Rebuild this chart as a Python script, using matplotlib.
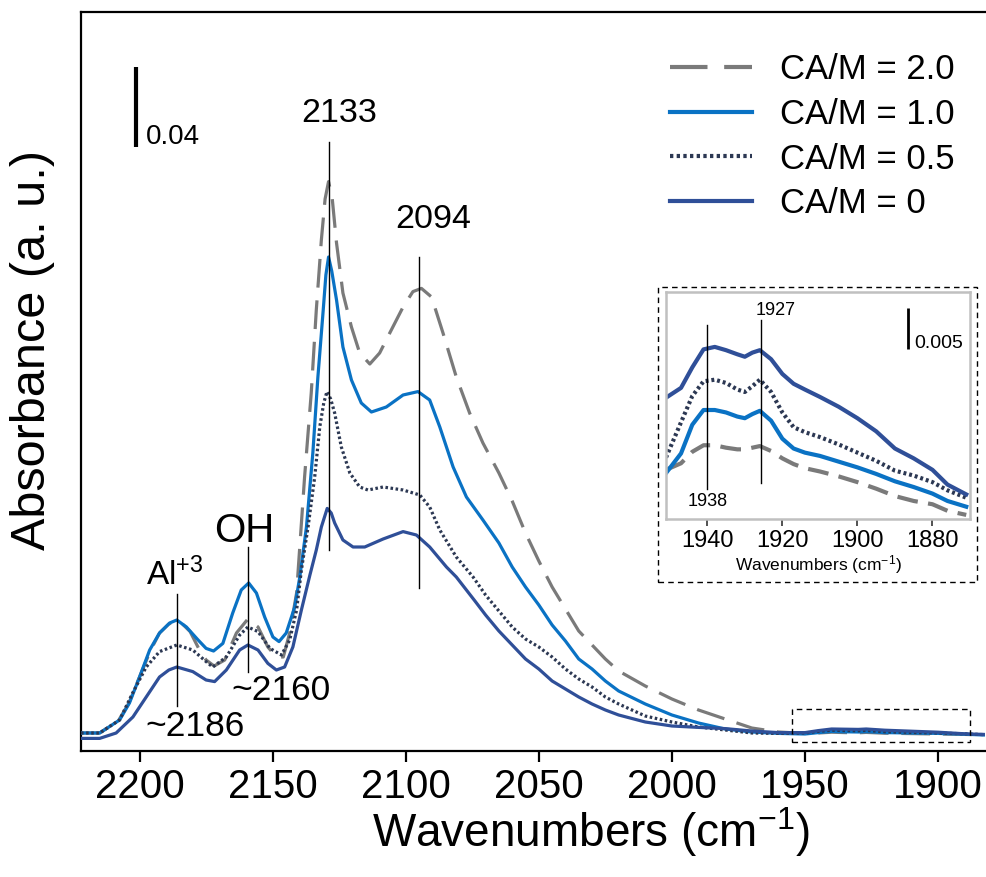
import matplotlib
matplotlib.use("Agg")
import matplotlib.pyplot as plt
from matplotlib.patches import Rectangle

plt.rcParams['font.family'] = ['Liberation Sans', 'DejaVu Sans']
plt.rcParams['mathtext.fontset'] = 'custom'
plt.rcParams['mathtext.rm'] = 'Liberation Sans'
plt.rcParams['mathtext.it'] = 'Liberation Sans:italic'
plt.rcParams['mathtext.bf'] = 'Liberation Sans:bold'

# ---------------- data (main spectrum) ----------------
tail_wn = [1945, 1940, 1935, 1930, 1927, 1920, 1910, 1900, 1890, 1883]

wn_ca20 = [2222, 2215, 2208, 2204, 2200, 2196, 2192.5, 2189, 2186, 2183.5, 2181, 2177.5,
           2175, 2172, 2168, 2163.6, 2159.3, 2155.5, 2151.8, 2148.6, 2146, 2143.6, 2141,
           2138, 2135.5, 2133.6, 2131.7, 2130.3, 2129, 2127.6, 2126, 2123.6, 2120.4,
           2117.3, 2113.5, 2109.8, 2106, 2101, 2097.3, 2094.1, 2090.3, 2086, 2081, 2076,
           2071, 2065, 2060, 2055, 2050, 2045, 2040, 2035, 2030, 2025, 2020, 2010, 2000,
           1990, 1980, 1970, 1960, 1950] + tail_wn
abs_ca20 = [0.001, 0.001, 0.007, 0.016, 0.029, 0.042, 0.051, 0.0555, 0.057, 0.055, 0.0517,
            0.0425, 0.0375, 0.0345, 0.0375, 0.051, 0.058, 0.054, 0.044, 0.039, 0.039, 0.051,
            0.071, 0.129, 0.171, 0.2125, 0.2475, 0.268, 0.2767, 0.268, 0.246, 0.221, 0.204,
            0.191, 0.1855, 0.191, 0.201, 0.214, 0.2217, 0.2233, 0.219, 0.201, 0.179, 0.161,
            0.146, 0.131, 0.117, 0.101, 0.087, 0.074, 0.063, 0.052, 0.045, 0.038, 0.032,
            0.0245, 0.018, 0.0125, 0.008, 0.0035, 0.0015, 0.0008,
            0.001, 0.0014, 0.0012, 0.0011, 0.0013, 0.0009, 0.0007, 0.0005, 0.0003, 0.0]

wn_ca10 = [2222, 2215, 2207.5, 2203.8, 2200, 2196.2, 2192.5, 2188.7, 2186, 2182.4, 2178,
           2175, 2172.2, 2168.7, 2165, 2161.8, 2159, 2156.1, 2153, 2149.9, 2147.6, 2144.9,
           2141.7, 2139.8, 2137.3, 2134.9, 2133, 2131, 2130, 2129, 2127.8, 2126, 2123.6,
           2120.4, 2116.7, 2112.9, 2107.3, 2101, 2095.4, 2091, 2087.2, 2082.2, 2077.2,
           2071, 2065, 2060, 2055, 2050, 2045, 2040, 2035, 2030, 2025, 2020, 2010, 2000,
           1990, 1980, 1970, 1960, 1950] + tail_wn
abs_ca10 = [0.001, 0.001, 0.0075, 0.016, 0.029, 0.0425, 0.051, 0.056, 0.0575, 0.054, 0.0475,
            0.0433, 0.042, 0.0458, 0.061, 0.0725, 0.076, 0.071, 0.059, 0.049, 0.0467, 0.051,
            0.064, 0.079, 0.104, 0.141, 0.179, 0.2125, 0.230, 0.239, 0.232, 0.2175, 0.194,
            0.1775, 0.166, 0.1615, 0.164, 0.170, 0.1717, 0.1675, 0.154, 0.134, 0.119,
            0.1075, 0.096, 0.084, 0.074, 0.065, 0.055, 0.047, 0.038, 0.033, 0.027, 0.022,
            0.0155, 0.010, 0.006, 0.003, 0.0015, 0.0008, 0.0005,
            0.0012, 0.0018, 0.0016, 0.0015, 0.0017, 0.0012, 0.001, 0.0008, 0.0004, 0.0]

wn_ca05 = [2222, 2215, 2207.5, 2202.6, 2197.5, 2192.5, 2186, 2180, 2175, 2172.5, 2167.4,
           2162.4, 2159.3, 2155.5, 2151, 2146.7, 2143.6, 2141, 2139.2, 2136.7, 2134.2,
           2132.3, 2130.8, 2129.6, 2128.2, 2126.7, 2124.2, 2121, 2117.3, 2114.2, 2108.5,
           2101, 2094.7, 2091, 2087.2, 2081, 2074.7, 2070, 2065, 2060, 2055, 2050, 2045,
           2040, 2035, 2030, 2025, 2020, 2010, 2000, 1990, 1980, 1970, 1960, 1950] + tail_wn
abs_ca05 = [0.001, 0.001, 0.0075, 0.021, 0.034, 0.0417, 0.045, 0.0425, 0.0367, 0.034, 0.039,
            0.050, 0.054, 0.0517, 0.0433, 0.040, 0.0475, 0.0625, 0.0825, 0.104, 0.129,
            0.154, 0.166, 0.1717, 0.168, 0.161, 0.144, 0.131, 0.124, 0.1225, 0.124,
            0.1225, 0.120, 0.114, 0.1025, 0.089, 0.079, 0.070, 0.062, 0.054, 0.048, 0.044,
            0.039, 0.033, 0.028, 0.024, 0.019, 0.0155, 0.0095, 0.0065, 0.004, 0.0025,
            0.001, 0.0008, 0.001,
            0.0018, 0.0024, 0.0022, 0.0021, 0.0023, 0.0016, 0.0013, 0.001, 0.0006, 0.0002]

wn_ca00 = [2222, 2215, 2208.8, 2202.5, 2197.5, 2192.5, 2189, 2186, 2180, 2175, 2171.8,
           2167.4, 2162.4, 2159.3, 2155.5, 2151.8, 2148.6, 2145.5, 2142.4, 2139.2, 2136,
           2133.6, 2131.7, 2129.5, 2128, 2126.7, 2123.6, 2119.8, 2115.4, 2108.5, 2101,
           2096, 2091, 2084.7, 2081, 2074, 2070, 2065, 2060, 2055, 2050, 2045, 2040, 2035,
           2030, 2025, 2020, 2010, 2000, 1990, 1980, 1970, 1960, 1950] + tail_wn
abs_ca00 = [-0.0017, -0.0017, 0.001, 0.009, 0.019, 0.029, 0.0325, 0.034, 0.0317, 0.0275,
            0.0267, 0.0325, 0.0425, 0.045, 0.0425, 0.0358, 0.0325, 0.034, 0.044, 0.0625,
            0.080, 0.0925, 0.104, 0.1133, 0.111, 0.106, 0.0975, 0.094, 0.094, 0.098,
            0.1017, 0.100, 0.094, 0.084, 0.079, 0.067, 0.060, 0.052, 0.045, 0.038, 0.033,
            0.027, 0.023, 0.019, 0.0155, 0.0125, 0.010, 0.0065, 0.0045, 0.0038, 0.0032,
            0.002, 0.0012, 0.0012,
            0.0022, 0.003, 0.0029, 0.0028, 0.003, 0.0024, 0.0019, 0.0014, 0.0006, 0.0003]

# ---------------- data (inset) ----------------
wn_in = [1951, 1947, 1944, 1941, 1938, 1935, 1932, 1930, 1928, 1926, 1923, 1920, 1917,
         1914, 1910, 1905, 1900, 1895, 1890, 1885, 1880, 1876, 1871]
in_ca00 = [0.0148, 0.0160, 0.0185, 0.0207, 0.0210, 0.0206, 0.0201, 0.0198, 0.0203, 0.0206,
           0.0195, 0.0177, 0.0165, 0.0158, 0.0149, 0.0137, 0.0123, 0.0107, 0.0086, 0.0074,
           0.0060, 0.0042, 0.0030]
in_ca05 = [0.0075, 0.0118, 0.0150, 0.0168, 0.0170, 0.0166, 0.0158, 0.0155, 0.0162, 0.0170,
           0.0155, 0.0130, 0.0112, 0.0106, 0.0100, 0.0091, 0.0081, 0.0071, 0.0059, 0.0053,
           0.0045, 0.0035, 0.0026]
in_ca10 = [0.0056, 0.0080, 0.0115, 0.0133, 0.0133, 0.0130, 0.0125, 0.0123, 0.0128, 0.0132,
           0.0120, 0.0098, 0.0086, 0.0081, 0.0077, 0.0070, 0.0063, 0.0055, 0.0046, 0.0039,
           0.0031, 0.0022, 0.0015]
in_ca20 = [0.0060, 0.0068, 0.0082, 0.0090, 0.0090, 0.0087, 0.0085, 0.0085, 0.0087, 0.0089,
           0.0083, 0.0074, 0.0067, 0.0062, 0.0058, 0.0052, 0.0045, 0.0037, 0.0028, 0.0022,
           0.0018, 0.0010, 0.0005]

labels = ['CA/M = 2.0', 'CA/M = 1.0', 'CA/M = 0.5', 'CA/M = 0']
main_ticks = [2200, 2150, 2100, 2050, 2000, 1950, 1900]
inset_ticks = [1940, 1920, 1900, 1880]

c_gray = '#7a7a7a'
c_blue = '#0a72c4'
c_dot = '#2c3853'
c_dark = '#2f4f98'

W, H = 986, 877
fig = plt.figure(figsize=(W / 100, H / 100), dpi=100)


def fx(px):
    return px / W


def fy(py):
    return 1 - py / H


ax = fig.add_axes([fx(81), fy(751), (986 - 81) / W, (751 - 12) / H])
lw = 2.3
ax.plot(wn_ca20, abs_ca20, color=c_gray, lw=lw, dashes=(9, 4), label=labels[0], zorder=3)
ax.plot(wn_ca10, abs_ca10, color=c_blue, lw=lw, label=labels[1], zorder=3)
ax.plot(wn_ca05, abs_ca05, color=c_dot, lw=lw, dashes=(0.8, 0.8), label=labels[2], zorder=3)
ax.plot(wn_ca00, abs_ca00, color=c_dark, lw=lw, label=labels[3], zorder=3)

ax.set_xlim(2222, 1882)
ax.set_ylim(-0.008, 0.3615)
ax.set_xticks(main_ticks)
ax.set_xticklabels([str(t) for t in main_ticks])
ax.set_yticks([])
ax.tick_params(axis='x', direction='out', length=8, width=1.6, labelsize=29, pad=4)
for s in ['left', 'bottom', 'top']:
    ax.spines[s].set_linewidth(1.6)
ax.spines['right'].set_visible(False)

# annotation lines
alw = 1.0
ax.plot([2129, 2129], [0.0925, 0.2965], color='black', lw=alw, zorder=4)
ax.plot([2095, 2095], [0.0735, 0.239], color='black', lw=alw, zorder=4)
ax.plot([2186, 2186], [0.0145, 0.0705], color='black', lw=alw, zorder=4)
ax.plot([2159.4, 2159.4], [0.0315, 0.094], color='black', lw=alw, zorder=4)

ax.text(2125, 0.311, '2133', fontsize=24.5, ha='center', va='center')
ax.text(2089.5, 0.258, '2094', fontsize=24.5, ha='center', va='center')
ax.text(2197.5, 0.075, 'Al$^{+3}$', fontsize=24, ha='left', va='baseline')
ax.text(2160.6, 0.0965, 'OH', fontsize=29, ha='center', va='baseline')
ax.text(2147, 0.022, '~2160', fontsize=25.5, ha='center', va='center')
ax.text(2179, 0.004, '~2186', fontsize=25.5, ha='center', va='center')

# scale bar
ax.plot([2201.5, 2201.5], [0.294, 0.334], color='black', lw=3, solid_capstyle='butt')
ax.text(2197.7, 0.2955, '0.04', fontsize=20, ha='left', va='baseline')

# zoom region box
ax.add_patch(Rectangle((1954.9, -0.0035), 1888 - 1954.9, 0.0165, fill=False,
                       ls=(0, (4, 3)), lw=1.0, ec='black', zorder=5))

# legend
leg = ax.legend(loc='upper left', bbox_to_anchor=(fx(670), fy(53)),
                bbox_transform=fig.transFigure, frameon=False, fontsize=25,
                handlelength=2.35, handletextpad=0.82, labelspacing=0.34,
                borderpad=0, borderaxespad=0)
for h in leg.get_lines():
    h.set_linewidth(3)

fig.text(fx(33), fy(350), 'Absorbance (a. u.)', fontsize=35, rotation=90,
         ha='center', va='center')
fig.text(fx(591), fy(832), 'Wavenumbers (cm$^{-1}$)', fontsize=33,
         ha='center', va='center')

# outer dashed box of inset
fig.add_artist(Rectangle((fx(658), fy(582)), (977 - 658) / W, (582 - 287) / H,
                         transform=fig.transFigure, fill=False, ls=(0, (4, 3)),
                         lw=1.0, ec='black'))

# inset axes
axi = fig.add_axes([fx(666), fy(519), (970 - 666) / W, (519 - 292) / H])
ilw = 3.0
axi.plot(wn_in, in_ca20, color=c_gray, lw=ilw, dashes=(5, 2.5))
axi.plot(wn_in, in_ca10, color=c_blue, lw=ilw)
axi.plot(wn_in, in_ca05, color=c_dot, lw=ilw, dashes=(0.7, 0.7))
axi.plot(wn_in, in_ca00, color=c_dark, lw=ilw)
axi.set_xlim(1951, 1870)
axi.set_ylim(0, 0.0277)
axi.set_xticks(inset_ticks)
axi.set_xticklabels([str(t) for t in inset_ticks])
axi.set_yticks([])
axi.tick_params(axis='x', direction='out', length=5, width=1.2, labelsize=17,
                pad=3, color='#333333')
for s in axi.spines.values():
    s.set_color('#c0c0c0')
    s.set_linewidth(1.8)
axi.set_xlabel('Wavenumbers (cm$^{-1}$)', fontsize=12.5, labelpad=1)

axi.plot([1940, 1940], [0.0037, 0.0237], color='black', lw=1.0)
axi.plot([1925.8, 1925.8], [0.0044, 0.0243], color='black', lw=1.0)
axi.text(1921.7, 0.0255, '1927', fontsize=13, ha='center', va='center')
axi.text(1940, 0.0021, '1938', fontsize=13, ha='center', va='center')
axi.plot([1886.6, 1886.6], [0.0207, 0.0257], color='black', lw=2.0, solid_capstyle='butt')
axi.text(1884.8, 0.0209, '0.005', fontsize=14, ha='left', va='baseline')

fig.savefig('out.png', dpi=100)
